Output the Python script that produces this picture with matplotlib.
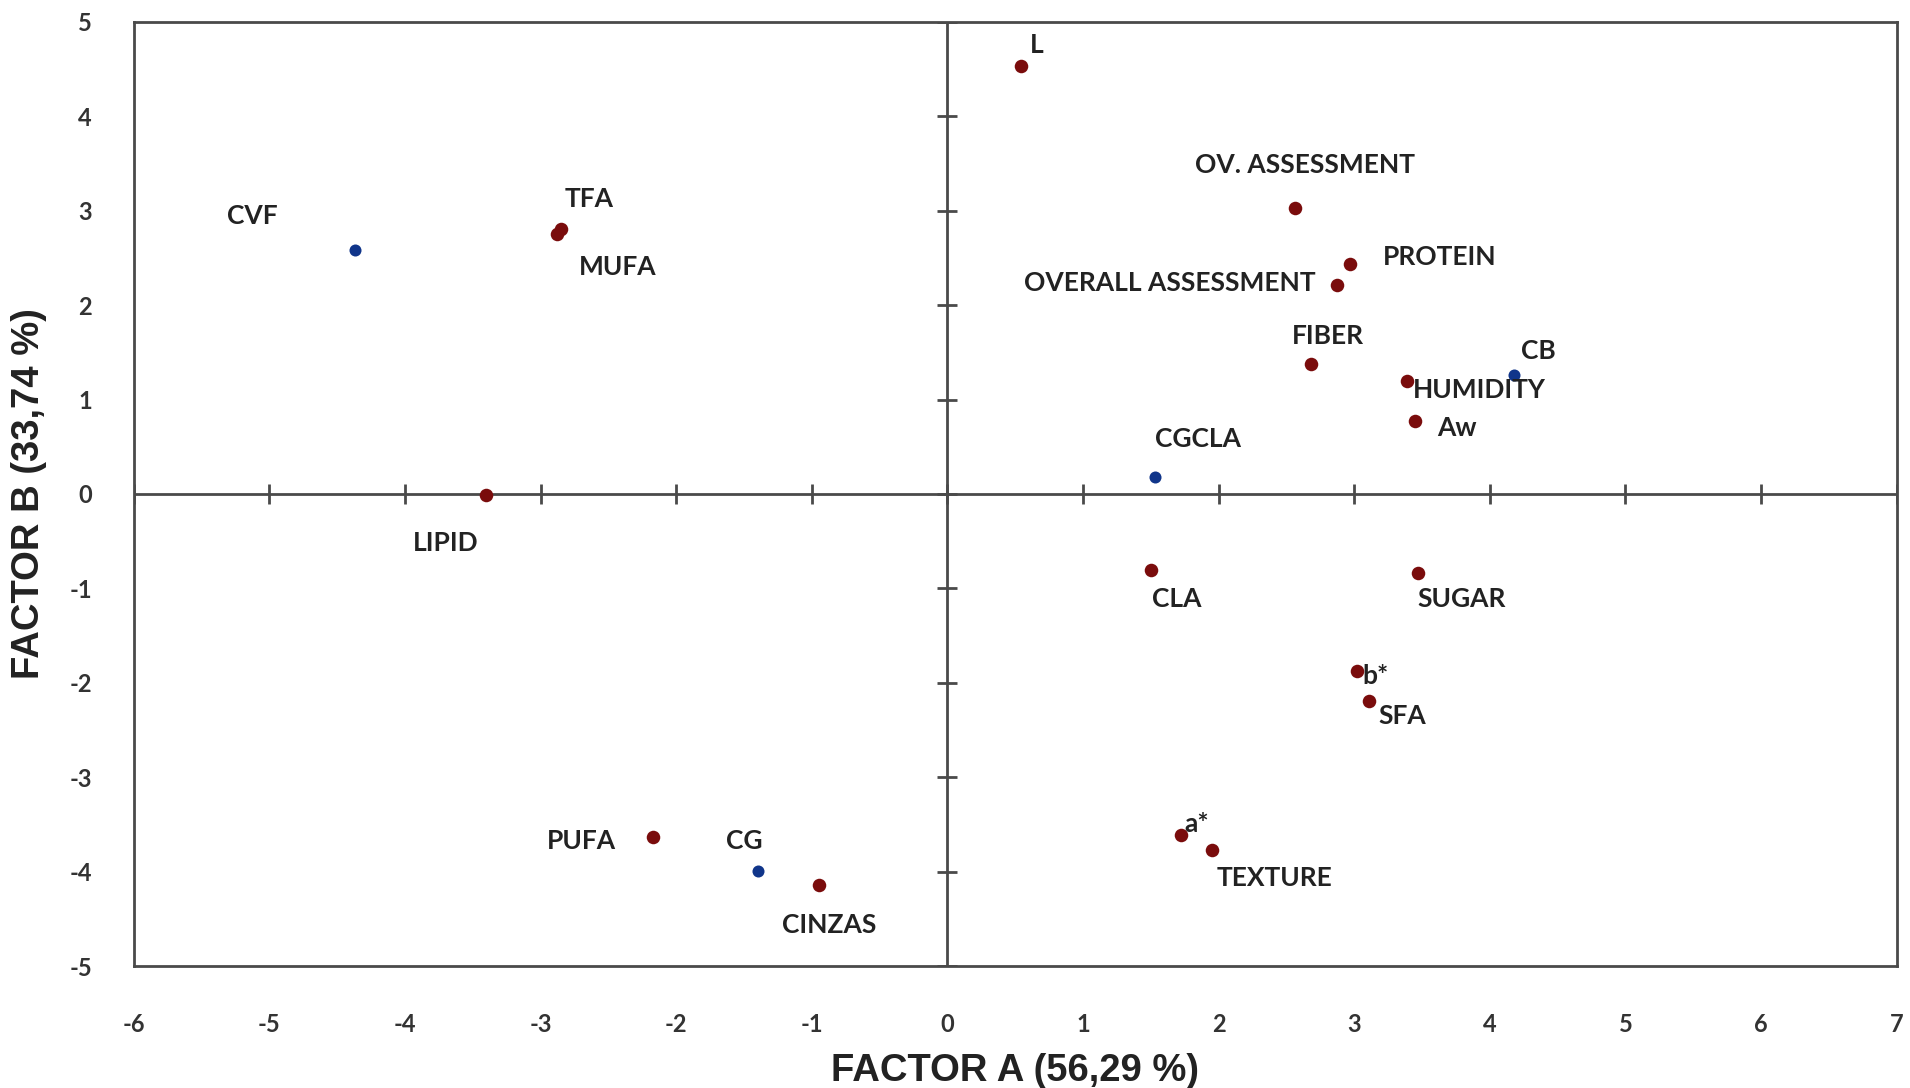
import matplotlib
matplotlib.use('Agg')
import matplotlib.pyplot as plt

plt.rcParams['axes.unicode_minus'] = False

# variables (dark red) and samples (blue) on the two factor axes
var_names = ['L', 'OV. ASSESSMENT', 'PROTEIN', 'OVERALL ASSESSMENT', 'FIBER', 'HUMIDITY', 'Aw',
             'CLA', 'SUGAR', 'b*', 'SFA', 'a*', 'TEXTURE', 'PUFA', 'CINZAS', 'LIPID', 'TFA', 'MUFA']
var_a = [0.54, 2.56, 2.97, 2.87, 2.68, 3.39, 3.45, 1.50, 3.47, 3.02, 3.11, 1.72, 1.95, -2.17, -0.95, -3.40, -2.85, -2.88]
var_b = [4.53, 3.03, 2.43, 2.21, 1.38, 1.20, 0.77, -0.80, -0.84, -1.87, -2.19, -3.61, -3.77, -3.63, -4.14, -0.01, 2.81, 2.75]

smp_names = ['CB', 'CGCLA', 'CG', 'CVF']
smp_a = [4.18, 1.53, -1.40, -4.37]
smp_b = [1.26, 0.18, -3.99, 2.58]

xticks = list(range(-6, 8))
yticks = list(range(-5, 6))

# label offsets in pixels (dx, dy, ha)
offs = {
    'L': (9, 21, 'left'), 'OV. ASSESSMENT': (-100, 43, 'left'), 'PROTEIN': (33, 7, 'left'),
    'OVERALL ASSESSMENT': (-21, 2, 'right'), 'FIBER': (-19, 28, 'left'), 'HUMIDITY': (6, -9, 'left'),
    'Aw': (22, -7, 'left'), 'CB': (7, 24, 'left'), 'CGCLA': (0, 38, 'left'), 'CLA': (1, -29, 'left'),
    'SUGAR': (-1, -26, 'left'), 'b*': (5, -5, 'left'), 'SFA': (9, -15, 'left'), 'a*': (4, 11, 'left'),
    'TEXTURE': (5, -28, 'left'), 'PUFA': (-37, -4, 'right'), 'CG': (-32, 30, 'left'),
    'CINZAS': (-37, -40, 'left'), 'LIPID': (-73, -48, 'left'), 'TFA': (4, 30, 'left'),
    'MUFA': (22, -33, 'left'), 'CVF': (-128, 34, 'left'),
}

red, blue, line = '#7a0c0c', '#10358a', '#4a4a4a'

fig = plt.figure(figsize=(19.1, 10.88), dpi=100)
ax = fig.add_axes([0.070, 0.112, 0.923, 0.868])
ax.set_xlim(-6, 7); ax.set_ylim(-5, 5)
for s in ax.spines.values():
    s.set_color(line); s.set_linewidth(2)

ax.axhline(0, color=line, lw=2, zorder=1)
ax.axvline(0, color=line, lw=2, zorder=1)
ax.plot(xticks, [0] * len(xticks), ls='none', marker='|', ms=14, mew=2, color=line, zorder=1)
ax.plot([0] * len(yticks), yticks, ls='none', marker='_', ms=14, mew=2, color=line, zorder=1)

ax.scatter(var_a, var_b, s=95, color=red, zorder=3, linewidths=0)
ax.scatter(smp_a, smp_b, s=75, color=blue, zorder=3, linewidths=0)

for n, a, b in list(zip(var_names, var_a, var_b)) + list(zip(smp_names, smp_a, smp_b)):
    dx, dy, ha = offs[n]
    ax.annotate(n, (a, b), xytext=(dx, dy), textcoords='offset pixels', ha=ha, va='center',
                fontsize=19, fontfamily='Lato', fontweight='bold', color='#222222', zorder=4)

ax.set_xticks(xticks); ax.set_yticks(yticks)
ax.tick_params(length=0, labelsize=17, labelcolor='#333333')
ax.tick_params(axis='x', pad=34)
ax.tick_params(axis='y', pad=30)
for t in ax.get_xticklabels() + ax.get_yticklabels():
    t.set_fontfamily('Lato'); t.set_fontweight('bold')

ax.set_xlabel('FACTOR A (56,29 %)', fontsize=27.5, fontweight='bold', fontfamily='Liberation Sans',
              color='#222222', labelpad=12)
ax.set_ylabel('FACTOR B (33,74 %)', fontsize=27.5, fontweight='bold', fontfamily='Liberation Sans',
              color='#222222', labelpad=16)

fig.savefig('out.png', dpi=100)
